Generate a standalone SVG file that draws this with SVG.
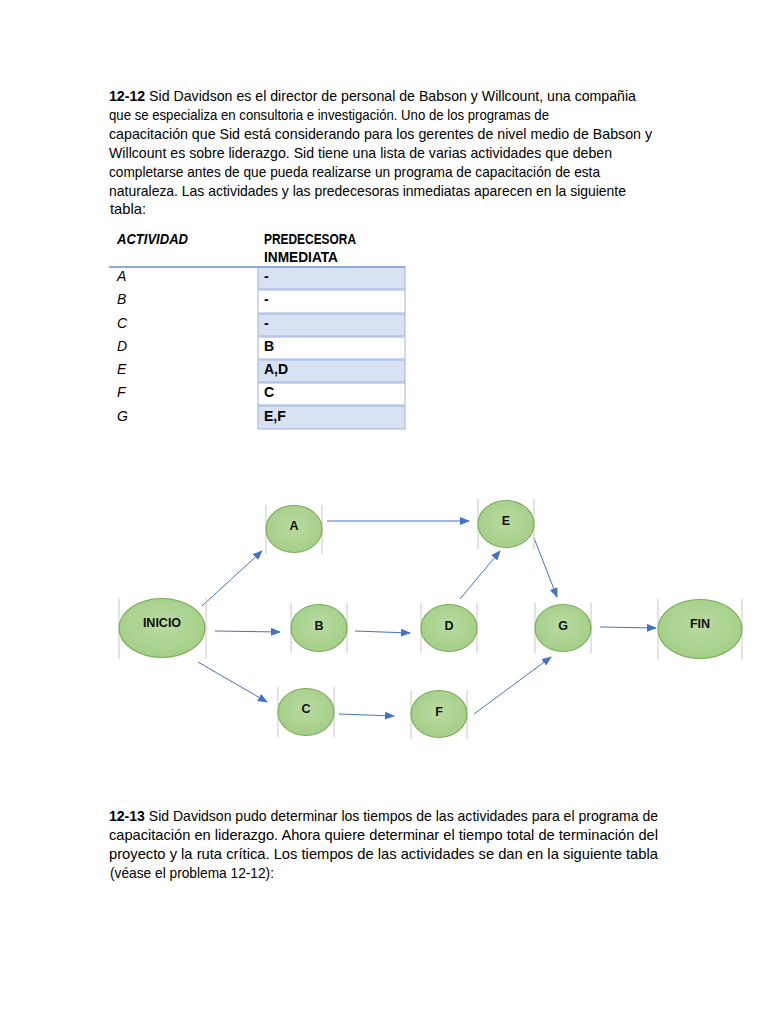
<svg xmlns="http://www.w3.org/2000/svg" width="768" height="1024" viewBox="0 0 768 1024">
<defs>
<style>
.t{font-family:"Liberation Sans",Arial,sans-serif;font-size:15px;fill:#000}
.b{font-weight:bold}
.it{font-style:italic}
.hd{font-family:"Liberation Sans",Arial,sans-serif;font-size:14px;fill:#000;font-weight:bold}
.cl{font-family:"Liberation Sans",Arial,sans-serif;font-size:14px;fill:#000}
.sh{fill:#d9e2f3;stroke:#9db4de;stroke-width:1}
.wh{fill:#ffffff;stroke:#9db4de;stroke-width:1}
.nd{fill:url(#g);stroke:#7aae55;stroke-width:1.2}
.bx{stroke:#c8c8c8;stroke-width:1}
.nl{font-family:"Liberation Sans",Arial,sans-serif;font-size:12.5px;font-weight:bold;fill:#111;text-anchor:middle}
.c{stroke:#4472c4;stroke-width:1;fill:none;marker-end:url(#ah)}
</style>
<radialGradient id="g" cx="50%" cy="45%" r="60%">
<stop offset="0" stop-color="#b8dba2"/>
<stop offset="1" stop-color="#a3cd86"/>
</radialGradient>
<marker id="ah" markerWidth="10" markerHeight="8" refX="9" refY="4" orient="auto" markerUnits="userSpaceOnUse">
<path d="M0,0 L10,4 L0,8 Z" fill="#4472c4"/>
</marker>
</defs>
<rect width="768" height="1024" fill="#ffffff"/>

<g id="para1">
<text class="t" x="109" y="101" textLength="527" lengthAdjust="spacingAndGlyphs"><tspan class="b">12-12</tspan>  Sid Davidson es el director de personal de Babson y Willcount, una compañia</text>
<text class="t" x="109" y="120" textLength="440" lengthAdjust="spacingAndGlyphs">que se especializa en consultoria e investigación. Uno de los programas de</text>
<text class="t" x="109" y="139" textLength="543" lengthAdjust="spacingAndGlyphs">capacitación que Sid está considerando para los gerentes de nivel medio de Babson y</text>
<text class="t" x="109" y="158" textLength="503" lengthAdjust="spacingAndGlyphs">Willcount es sobre liderazgo. Sid tiene una lista de varias actividades que deben</text>
<text class="t" x="109" y="177" textLength="491" lengthAdjust="spacingAndGlyphs">completarse antes de que pueda realizarse un programa de capacitación de esta</text>
<text class="t" x="109" y="196" textLength="517" lengthAdjust="spacingAndGlyphs">naturaleza. Las actividades y las predecesoras inmediatas aparecen en la siguiente</text>
<text class="t" x="110" y="214" textLength="36" lengthAdjust="spacingAndGlyphs">tabla:</text>
</g>

<g id="table">
<text class="hd it" x="117" y="244" textLength="71" lengthAdjust="spacingAndGlyphs">ACTIVIDAD</text>
<text class="hd" x="264" y="244" textLength="92" lengthAdjust="spacingAndGlyphs">PREDECESORA</text>
<text class="hd" x="264" y="262" textLength="74" lengthAdjust="spacingAndGlyphs">INMEDIATA</text>
<rect class="sh" x="258" y="267" width="147" height="22"/>
<rect class="wh" x="258" y="290" width="147" height="23"/>
<rect class="sh" x="258" y="314" width="147" height="22"/>
<rect class="wh" x="258" y="337" width="147" height="22"/>
<rect class="sh" x="258" y="360" width="147" height="22"/>
<rect class="wh" x="258" y="383" width="147" height="22"/>
<rect class="sh" x="258" y="406" width="147" height="23"/>
<line x1="109" y1="267" x2="405" y2="267" stroke="#8eaadb" stroke-width="2"/>
<text class="cl it" x="117" y="281">A</text>
<text class="cl it" x="117" y="304">B</text>
<text class="cl it" x="117" y="328">C</text>
<text class="cl it" x="117" y="351">D</text>
<text class="cl it" x="117" y="374">E</text>
<text class="cl it" x="117" y="397">F</text>
<text class="cl it" x="117" y="421">G</text>
<text class="cl b" x="264" y="281">-</text>
<text class="cl b" x="264" y="304">-</text>
<text class="cl b" x="264" y="328">-</text>
<text class="cl b" x="264" y="351">B</text>
<text class="cl b" x="264" y="374">A,D</text>
<text class="cl b" x="264" y="397">C</text>
<text class="cl b" x="264" y="421">E,F</text>
</g>

<g id="connectors">
<line class="c" x1="202" y1="606" x2="262" y2="551"/>
<line class="c" x1="215" y1="631" x2="280" y2="632"/>
<line class="c" x1="198" y1="662" x2="267" y2="702"/>
<line class="c" x1="327" y1="521" x2="469" y2="521" stroke-width="1.3"/>
<line class="c" x1="355" y1="631" x2="410" y2="633"/>
<line class="c" x1="339" y1="714" x2="394" y2="716"/>
<line class="c" x1="460" y1="599" x2="500" y2="551"/>
<line class="c" x1="534" y1="538" x2="557" y2="597"/>
<line class="c" x1="600" y1="627" x2="656" y2="628"/>
<line class="c" x1="474" y1="714" x2="551" y2="657"/>
</g>

<g id="INICIO">
<line class="bx" x1="119" y1="598" x2="119" y2="659"/><line class="bx" x1="206" y1="598" x2="206" y2="659"/>
<ellipse class="nd" cx="162" cy="628" rx="43" ry="29.5"/>
<text class="nl" x="162" y="627">INICIO</text>
</g>
<g id="A">
<line class="bx" x1="266" y1="505" x2="266" y2="554"/><line class="bx" x1="322" y1="505" x2="322" y2="554"/>
<ellipse class="nd" cx="294" cy="529" rx="28" ry="23.5"/>
<text class="nl" x="294" y="530">A</text>
</g>
<g id="B">
<line class="bx" x1="291" y1="603" x2="291" y2="653"/><line class="bx" x1="347" y1="603" x2="347" y2="653"/>
<ellipse class="nd" cx="319" cy="628" rx="28" ry="23.5"/>
<text class="nl" x="319" y="630">B</text>
</g>
<g id="C">
<line class="bx" x1="278" y1="687" x2="278" y2="737"/><line class="bx" x1="334" y1="687" x2="334" y2="737"/>
<ellipse class="nd" cx="306" cy="712" rx="28" ry="23.5"/>
<text class="nl" x="306" y="713">C</text>
</g>
<g id="D">
<line class="bx" x1="421" y1="603" x2="421" y2="653"/><line class="bx" x1="477" y1="603" x2="477" y2="653"/>
<ellipse class="nd" cx="449" cy="628" rx="28" ry="23.5"/>
<text class="nl" x="449" y="630">D</text>
</g>
<g id="E">
<line class="bx" x1="478" y1="499" x2="478" y2="549"/><line class="bx" x1="534" y1="499" x2="534" y2="549"/>
<ellipse class="nd" cx="506" cy="524" rx="28" ry="23.5"/>
<text class="nl" x="506" y="525">E</text>
</g>
<g id="F">
<line class="bx" x1="411" y1="690" x2="411" y2="739"/><line class="bx" x1="467" y1="690" x2="467" y2="739"/>
<ellipse class="nd" cx="439" cy="714" rx="28" ry="23.5"/>
<text class="nl" x="439" y="716">F</text>
</g>
<g id="G">
<line class="bx" x1="535" y1="603" x2="535" y2="653"/><line class="bx" x1="591" y1="603" x2="591" y2="653"/>
<ellipse class="nd" cx="563" cy="628" rx="28" ry="23.5"/>
<text class="nl" x="563" y="630">G</text>
</g>
<g id="FIN">
<line class="bx" x1="658" y1="599" x2="658" y2="660"/><line class="bx" x1="742" y1="599" x2="742" y2="660"/>
<ellipse class="nd" cx="700" cy="629" rx="42" ry="29.5"/>
<text class="nl" x="700" y="628">FIN</text>
</g>

<g id="para2">
<text class="t" x="109" y="821" textLength="549" lengthAdjust="spacingAndGlyphs"><tspan class="b">12-13</tspan> Sid Davidson pudo determinar los tiempos de las actividades para el programa de</text>
<text class="t" x="109" y="840" textLength="549" lengthAdjust="spacingAndGlyphs">capacitación en liderazgo. Ahora quiere determinar el tiempo total de terminación del</text>
<text class="t" x="109" y="859" textLength="549" lengthAdjust="spacingAndGlyphs">proyecto y la ruta crítica. Los tiempos de las actividades se dan en la siguiente tabla</text>
<text class="t" x="110" y="878" textLength="164" lengthAdjust="spacingAndGlyphs">(véase el problema 12-12):</text>
</g>
</svg>
